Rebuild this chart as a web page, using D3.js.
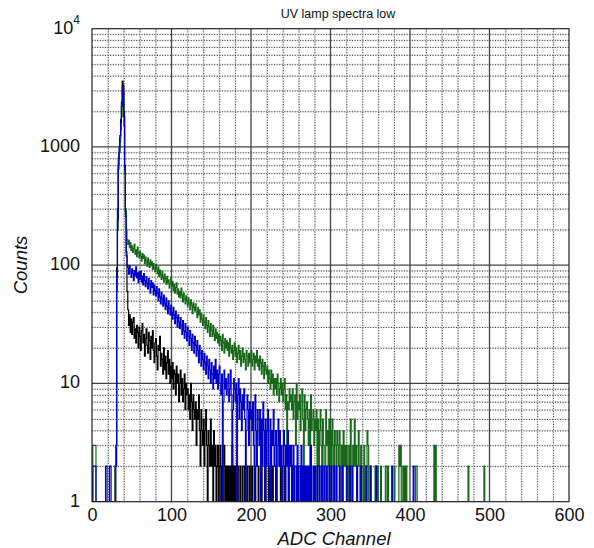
<!DOCTYPE html>
<html>
<head>
<meta charset="utf-8">
<script src="https://cdn.jsdelivr.net/npm/d3@7"></script>
<style>
  html, body { margin: 0; padding: 0; background: #fff; }
  svg { display: block; font-family: "Liberation Sans", Arial, sans-serif; }
</style>
</head>
<body>
<svg id="chart" width="594" height="548"></svg>
<script>
// ---------- data (counts per ADC channel, channel index = array index) ----------
const title = "UV lamp spectra low";
const xLabel = "ADC Channel";
const yLabel = "Counts";
const xTicks = [0, 100, 200, 300, 400, 500, 600];
const yTicks = [1, 10, 100, 1000, 10000];
const yTickLabels = ["1", "10", "100", "1000", "10|4"];

const blackCounts = [
1,0,1,0,0,1,0,0,1,0,
0,1,0,0,0,1,0,1,0,0,
1,0,0,1,0,1,0,0,1,2,
3,95,300,700,900,1200,1700,2400,3600,3300,
2000,700,290,120,60,42,31,38,27,35,
26,33,36,24,29,22,31,27,20,30,
25,19,28,32,22,26,17,24,29,21,
18,27,23,16,25,20,28,19,15,22,
24,17,13,21,19,25,14,18,16,12,
20,13,17,11,15,19,12,16,10,14,
11,15,9,13,12,8,14,10,12,7,
10,13,8,11,7,9,12,6,10,8,
9,6,8,5,10,7,4,8,6,5,
7,3,6,5,8,4,2,6,4,3,
5,2,4,6,3,1,4,3,2,5,
2,3,1,4,2,3,1,2,3,1,
2,3,1,2,0,2,3,1,2,1,
2,1,2,0,2,1,3,1,2,1,
2,0,1,2,1,0,2,1,1,2,
0,1,2,0,1,2,1,0,2,1,
1,2,0,1,0,2,1,0,1,2,
0,1,0,2,1,0,1,0,2,0,
1,0,2,1,0,0,1,2,0,1,
0,2,0,1,0,1,0,2,0,0,
1,0,2,0,1,0,0,2,0,1,
0,0,2,0,0,1,0,0,0,1
];

const blueCounts = [
1,2,2,2,2,1,0,1,0,1,
0,1,0,1,0,0,1,2,2,1,
0,1,2,2,1,0,1,0,1,1,
2,80,240,800,1000,1250,1600,2200,3200,2900,
1800,650,260,130,100,96,84,99,88,79,
93,85,74,90,81,97,78,86,71,88,
76,89,72,81,68,85,74,66,80,71,
63,77,69,58,74,65,71,56,68,61,
55,66,58,50,63,54,47,59,52,45,
56,47,42,53,45,39,50,43,38,46,
40,35,44,38,32,41,36,30,38,33,
29,36,31,26,34,28,24,32,27,23,
30,25,21,28,24,19,26,22,18,25,
21,17,23,19,15,21,18,14,19,16,
13,18,15,12,17,14,11,16,13,10,
15,12,9,14,11,16,10,13,9,12,
14,10,8,12,1,7,13,9,11,8,
10,12,7,9,13,8,2,6,11,9,
7,10,1,8,11,5,9,7,4,8,
6,9,5,1,4,8,6,3,7,5,
6,4,7,3,1,8,4,2,6,5,
3,6,1,5,2,7,4,1,5,2,
4,6,2,1,5,1,4,3,6,2,
3,4,1,3,5,2,4,2,3,1,
2,4,3,1,3,2,4,1,3,2,
3,1,2,3,1,2,2,0,3,1,
2,2,1,3,0,2,1,2,1,2,
1,2,0,2,1,3,1,0,2,1,
2,0,1,2,1,0,2,1,0,2,
1,0,2,1,0,2,0,1,2,0,
1,2,0,0,2,1,0,2,0,1,
0,2,0,1,0,2,0,0,1,0,
2,0,1,0,2,1,0,2,0,0,
1,0,0,2,0,1,0,0,2,0,
0,1,0,0,0,2,0,1,0,0,
2,0,0,0,1,0,0,2,0,0,
0,0,1,0,0,0,0,0,1,0,
0,0,0,0,1,0,0,2,0,0,
0,0,0,0,0,0,1,0,0,0,
0,0,0,0,0,0,0,0,0,0,
0,0,0,0,2,0,0,0,0,0
];

const greenCounts = [
1,3,3,3,3,1,0,1,0,0,
1,0,0,1,0,1,0,0,1,0,
0,1,0,0,1,0,1,1,0,2,
3,60,200,650,900,1100,1400,1800,2500,2300,
1500,600,300,200,165,150,162,141,155,133,
146,128,139,151,124,135,118,142,127,115,
131,119,108,126,114,122,103,117,109,98,
115,104,96,111,99,107,92,103,95,88,
101,93,85,97,80,91,83,76,89,79,
72,84,77,69,80,71,75,64,70,78,
66,73,61,69,58,65,71,57,63,54,
60,53,64,56,49,58,52,47,55,50,
45,53,48,42,51,46,39,48,44,41,
47,40,36,44,38,42,33,39,35,31,
38,33,29,36,31,27,34,30,25,32,
28,25,31,26,23,29,24,27,22,26,
21,25,23,19,26,22,18,24,20,23,
19,22,17,24,20,18,21,16,19,22,
17,20,15,18,21,16,19,14,17,20,
15,18,16,13,19,17,14,18,15,17,
19,14,16,18,13,17,15,19,14,16,
13,17,15,12,16,14,11,15,13,12,
14,10,13,11,9,13,10,12,8,11,
9,11,8,12,10,7,9,11,8,10,
7,9,11,6,8,3,7,6,9,7,
8,6,9,5,7,8,3,10,5,7,
6,8,4,7,9,5,1,8,4,6,
7,5,3,6,1,8,4,5,6,3,
5,4,6,1,5,2,4,6,3,1,
5,3,1,2,6,3,4,2,5,1,
4,2,5,3,2,4,3,1,4,3,
2,4,3,1,3,2,4,2,3,2,
3,2,1,3,2,5,2,1,3,2,
5,2,3,1,2,4,2,1,3,2,
2,1,3,0,2,2,4,3,0,1,
2,0,1,0,0,0,2,2,0,2,
1,0,0,2,0,1,0,0,0,2,
2,0,2,0,0,0,1,0,0,0,
2,0,0,1,0,0,3,2,3,0,
0,2,0,2,0,2,0,0,0,0,
0,1,0,0,0,0,0,2,2,0,
0,0,0,0,0,0,0,0,0,0,
0,0,0,0,0,0,0,0,0,0,
3,0,3,0,0,0,0,0,0,0,
0,0,0,0,0,0,0,0,0,0,
0,0,0,0,0,0,0,0,0,0,
0,0,0,0,0,0,0,0,0,0,
0,0,0,2,0,0,0,0,0,0,
0,0,0,0,0,0,0,0,0,0,
0,0,0,2,0,0
];

const seriesNames = ["black", "green", "blue"];
const seriesColors = ["#000000", "#17691a", "#0000c8"];

// ---------- drawing ----------
const svg = d3.select("#chart");
const pL = 92, pR = 569, pT = 28.7, pB = 501.7;

const x = d3.scaleLinear().domain([0, 600]).range([pL, pR]);
const y = d3.scaleLog().domain([1, 10000]).range([pB, pT]).clamp(true);

svg.append("rect").attr("width", 594).attr("height", 548).attr("fill", "#fff");

const grid = svg.append("g");

// minor vertical lines every 20 channels
const xMinor = d3.range(20, 600, 20).filter(v => v % 100 !== 0);
grid.selectAll(".vminor").data(xMinor).join("line")
  .attr("x1", d => x(d)).attr("x2", d => x(d))
  .attr("y1", pT).attr("y2", pB)
  .attr("stroke", "#d8d8d8").attr("stroke-width", 1);
grid.selectAll(".vminord").data(xMinor).join("line")
  .attr("x1", d => x(d) + 0.5).attr("x2", d => x(d) + 0.5)
  .attr("y1", pT).attr("y2", pB)
  .attr("stroke", "#3a3a3a").attr("stroke-width", 1)
  .attr("stroke-dasharray", "1,1.6");

// minor horizontal lines 2..9 per decade
const yMinor = [];
[1, 10, 100, 1000].forEach(d => { for (let k = 2; k <= 9; k++) yMinor.push(k * d); });
grid.selectAll(".hminor").data(yMinor).join("line")
  .attr("x1", pL).attr("x2", pR)
  .attr("y1", d => y(d)).attr("y2", d => y(d))
  .attr("stroke", "#d8d8d8").attr("stroke-width", 1);
grid.selectAll(".hminord").data(yMinor).join("line")
  .attr("x1", pL).attr("x2", pR)
  .attr("y1", d => y(d) + 0.5).attr("y2", d => y(d) + 0.5)
  .attr("stroke", "#3a3a3a").attr("stroke-width", 1)
  .attr("stroke-dasharray", "1,1.6");

// major lines
const xMajor = xTicks.slice(1, -1);
grid.selectAll(".vmajor").data(xMajor).join("line")
  .attr("x1", d => x(d)).attr("x2", d => x(d))
  .attr("y1", pT).attr("y2", pB)
  .attr("stroke", "#444").attr("stroke-width", 1.3);
const yMajor = yTicks.slice(1, -1);
grid.selectAll(".hmajor").data(yMajor).join("line")
  .attr("x1", pL).attr("x2", pR)
  .attr("y1", d => y(d)).attr("y2", d => y(d))
  .attr("stroke", "#444").attr("stroke-width", 1.3);

// clip
svg.append("clipPath").attr("id", "clip").append("rect")
  .attr("x", pL).attr("y", pT).attr("width", pR - pL).attr("height", pB - pT);

const line = d3.line()
  .x(d => x(d[0]))
  .y(d => y(Math.max(d[1], 1)))
  .curve(d3.curveStepAfter);

const seriesData = [blackCounts, greenCounts, blueCounts];
const plot = svg.append("g").attr("clip-path", "url(#clip)");
seriesData.forEach((arr, si) => {
  const pts = arr.map((v, i) => [i, v]);
  pts.push([arr.length, 0]);
  plot.append("path")
    .attr("d", line(pts))
    .attr("fill", "none")
    .attr("stroke", seriesColors[si])
    .attr("stroke-width", 1.2)
    .attr("class", seriesNames[si]);
});

// frame
svg.append("rect")
  .attr("x", pL).attr("y", pT).attr("width", pR - pL).attr("height", pB - pT)
  .attr("fill", "none").attr("stroke", "#222").attr("stroke-width", 1.2);

// x tick labels
const xAxis = d3.axisBottom(x).tickValues(xTicks).tickSize(0).tickPadding(7).tickFormat(d3.format("d"));
const gx = svg.append("g").attr("transform", `translate(0,${pB})`).call(xAxis);
gx.select(".domain").remove();
gx.selectAll("text").attr("font-size", 18).attr("fill", "#111")
  .attr("font-family", "Liberation Sans, Arial, sans-serif");

// y tick labels
const gy = svg.append("g");
yTicks.forEach((v, i) => {
  const lab = yTickLabels[i];
  const t = gy.append("text")
    .attr("x", 80).attr("y", y(v) - 1)
    .attr("text-anchor", "end")
    .attr("dominant-baseline", "central")
    .attr("font-size", 18).attr("fill", "#111");
  if (lab.includes("|")) {
    const [base, exp] = lab.split("|");
    t.append("tspan").text(base);
    t.append("tspan").text(exp).attr("font-size", 12).attr("dy", -8);
  } else {
    t.text(lab);
  }
});

// axis labels
svg.append("text")
  .attr("x", 334).attr("y", 545)
  .attr("text-anchor", "middle")
  .attr("font-size", 18.5).attr("font-style", "italic").attr("fill", "#111")
  .text(xLabel);
svg.append("text")
  .attr("transform", `translate(27,265) rotate(-90)`)
  .attr("text-anchor", "middle")
  .attr("font-size", 18.5).attr("font-style", "italic").attr("fill", "#111")
  .text(yLabel);

// title
svg.append("text")
  .attr("x", 338).attr("y", 18)
  .attr("text-anchor", "middle")
  .attr("font-size", 12.5).attr("fill", "#111")
  .text(title);
</script>
</body>
</html>
